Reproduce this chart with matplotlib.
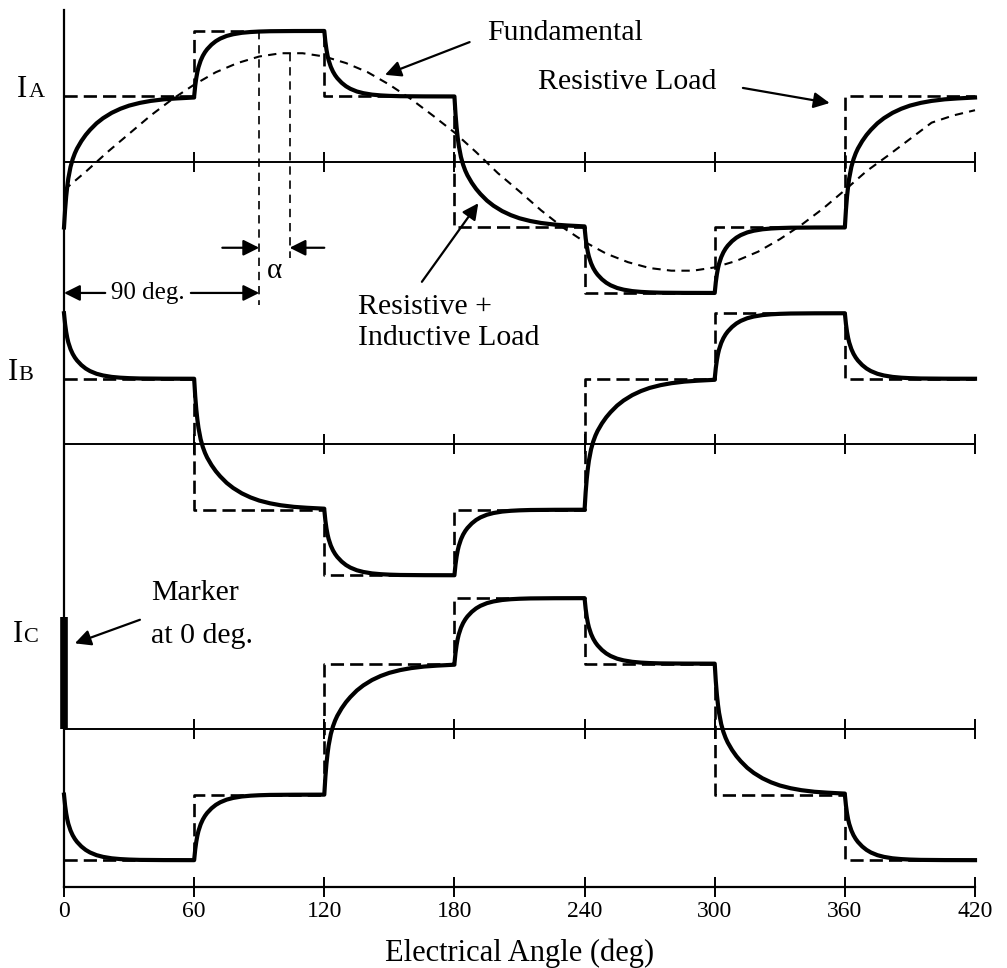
import matplotlib.pyplot as plt

# six-step phase currents, one level per 60 deg interval (units of Vdc/3R)
angle_edges = [0, 60, 120, 180, 240, 300, 360, 420]
ia_levels = [1, 2, 1, -1, -2, -1, 1]
ib_levels = [1, -1, -2, -1, 1, 2, 1]
ic_levels = [-2, -1, 1, 2, 1, -1, -2]
ia_start, ib_start, ic_start = -1, 2, -1   # level held before 0 deg

# R+L response after a switching instant: fraction of the jump still left
step_offsets = [0, 0.5, 1, 1.5, 2, 3, 4, 5, 6, 8, 10, 12, 15, 18, 22, 26,
                30, 35, 40, 46, 52, 60]
remain_big = [1.0, 0.866, 0.764, 0.687, 0.625, 0.538, 0.479, 0.434, 0.398,
              0.341, 0.294, 0.255, 0.205, 0.166, 0.125, 0.094, 0.070, 0.049,
              0.034, 0.022, 0.015, 0.008]
remain_small = [1.0, 0.836, 0.715, 0.624, 0.554, 0.453, 0.380, 0.324, 0.279,
                0.209, 0.156, 0.117, 0.076, 0.050, 0.028, 0.016, 0.009, 0.004,
                0.002, 0.001, 0.0, 0.0]

# fundamental of IA read every 10 deg
fund_angle = list(range(0, 421, 10))
fund_value = [-0.43, -0.15, 0.15, 0.43, 0.71, 0.96, 1.18, 1.37, 1.51, 1.61,
              1.66, 1.66, 1.61, 1.51, 1.37, 1.18, 0.96, 0.71, 0.45, 0.15,
              -0.17, -0.45, -0.74, -1.0, -1.22, -1.40, -1.53, -1.62, -1.66,
              -1.66, -1.61, -1.51, -1.37, -1.18, -0.96, -0.71, -0.43, -0.14,
              0.10, 0.35, 0.60, 0.71, 0.79]

tick_angles = [0, 60, 120, 180, 240, 300, 360, 420]
alpha_deg = 104

# vertical position of each trace's zero line
off_a, off_b, off_c = 11.07, 6.76, 2.41

plt.rcParams['font.family'] = ['Liberation Serif', 'DejaVu Serif']

fig = plt.figure(figsize=(10.07, 9.68), dpi=100)
ax = fig.add_axes([64 / 1007, 81 / 968, 911 / 1007, 877 / 968])
ax.set_xlim(0, 420)
ax.set_ylim(0, 13.39)
for s in ['top', 'right']:
    ax.spines[s].set_visible(False)
for s in ['left', 'bottom']:
    ax.spines[s].set_linewidth(1.6)
ax.set_yticks([])
ax.set_xticks(tick_angles)
ax.tick_params(axis='x', direction='inout', length=14, width=1.4, labelsize=17, pad=3)
ax.set_xlabel('Electrical Angle (deg)', fontsize=22, labelpad=12)


def rl_curve(levels, start):
    xs, ys = [], []
    prev = start
    for i, lvl in enumerate(levels):
        shape = remain_big if abs(lvl - prev) > 1 else remain_small
        for t, r in zip(step_offsets, shape):
            xs.append(angle_edges[i] + t)
            ys.append(lvl + (prev - lvl) * r)
        prev = lvl
    return xs, ys


traces = [(ia_levels, ia_start, off_a), (ib_levels, ib_start, off_b), (ic_levels, ic_start, off_c)]
for levels, start, off in traces:
    # zero line with ticks
    ax.plot([0, 420], [off, off], color='k', lw=1.4, clip_on=False)
    ax.plot(tick_angles[1:], [off] * (len(tick_angles) - 1), ls='none', marker='|',
            ms=14, mew=1.4, color='k', clip_on=False)
    # resistive load: square steps
    ax.step(angle_edges, [v + off for v in levels + [levels[-1]]], where='post',
            color='k', lw=1.9, dashes=(5, 2.3), clip_on=False, zorder=3)
    # resistive + inductive load
    xs, ys = rl_curve(levels, start)
    ax.plot(xs, [v + off for v in ys], color='k', lw=3.0, clip_on=False, zorder=4,
            solid_joinstyle='round')

# fundamental
ax.plot(fund_angle, [v + off_a for v in fund_value], color='k', lw=1.5,
        dashes=(4, 3), clip_on=False, zorder=2)

# 90 deg and alpha guide lines
ax.plot([90, 90], [off_a + 2, 8.89], color='k', lw=1.2, dashes=(5, 3.5))
ax.plot([alpha_deg, alpha_deg], [off_a + 1.66, 9.60], color='k', lw=1.2, dashes=(5, 3.5))

arrow = dict(arrowstyle='-|>', color='k', lw=1.6, mutation_scale=24, shrinkA=0, shrinkB=0)

ax.annotate('', xy=(0, 9.07), xytext=(19, 9.07), arrowprops=arrow)
ax.annotate('', xy=(90, 9.07), xytext=(58.5, 9.07), arrowprops=arrow)
ax.text(38.5, 9.07, '90 deg.', fontsize=18, ha='center', va='center')

ax.annotate('', xy=(90, 9.76), xytext=(73, 9.76), arrowprops=arrow)
ax.annotate('', xy=(alpha_deg, 9.76), xytext=(120, 9.76), arrowprops=arrow)
ax.text(97, 9.40, 'α', fontsize=21, ha='center', va='center')

ax.text(195, 13.04, 'Fundamental', fontsize=21.5, ha='left', va='center')
ax.annotate('', xy=(148, 12.40), xytext=(187, 12.90), arrowprops=arrow)

ax.text(218.5, 12.29, 'Resistive Load', fontsize=21.5, ha='left', va='center')
ax.annotate('', xy=(353, 11.97), xytext=(313, 12.20), arrowprops=arrow)

ax.text(135.5, 8.85, 'Resistive +', fontsize=21.5, ha='left', va='center')
ax.text(135.5, 8.38, 'Inductive Load', fontsize=21.5, ha='left', va='center')
ax.annotate('', xy=(191, 10.44), xytext=(165, 9.24), arrowprops=arrow)

# marker at 0 deg on IC
ax.plot([0, 0], [off_c, off_c + 1.71], color='k', lw=5.5, solid_capstyle='butt',
        clip_on=False, zorder=5)
ax.text(40, 4.49, 'Marker', fontsize=21.5, ha='left', va='center')
ax.text(40, 3.83, 'at 0 deg.', fontsize=21.5, ha='left', va='center')
ax.annotate('', xy=(5, 3.72), xytext=(35, 4.08), arrowprops=arrow)

# phase names: capital I with small-cap letter
for letter, x_i, x_l, y_base in [('A', -21.7, -16.4, 12.06), ('B', -25.8, -21.0, 7.74),
                                 ('C', -23.5, -18.7, 3.74)]:
    ax.text(x_i, y_base, 'I', fontsize=22, ha='left', va='baseline')
    ax.text(x_l, y_base, letter, fontsize=16, ha='left', va='baseline')

fig.savefig('out.png', dpi=100)
